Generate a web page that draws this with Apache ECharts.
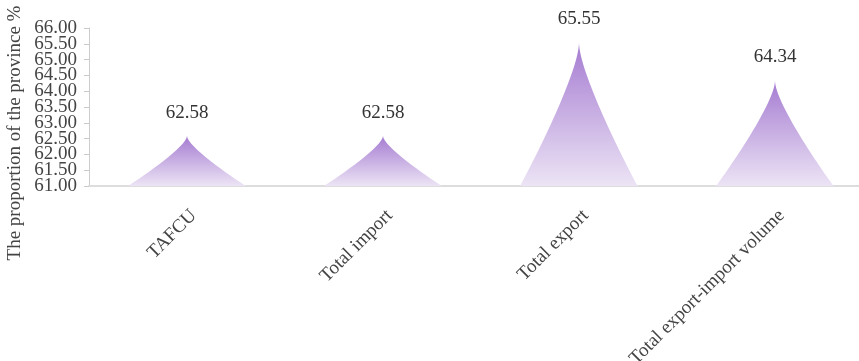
<!DOCTYPE html>
<html>
<head>
<meta charset="utf-8">
<script src="https://cdn.jsdelivr.net/npm/echarts@6/dist/echarts.min.js"></script>
<style>
html,body{margin:0;padding:0;background:#fff;}
#main{width:859px;height:361px;}
</style>
</head>
<body>
<div id="main"></div>
<script>
// categories and values
var categories = ['TAFCU', 'Total import', 'Total export', 'Total export-import volume'];
var proportion = [62.58, 62.58, 65.55, 64.34];
var yMin = 61, yMax = 66, yStep = 0.5;
// y tick labels (drawn on a label-only axis so none get dropped)
var yTicks = ['61.00', '61.50', '62.00', '62.50', '63.00', '63.50', '64.00', '64.50', '65.00', '65.50', '66.00'];

var serif = '"Liberation Serif", "Times New Roman", serif';
var myChart = echarts.init(document.getElementById('main'));
var option = {
	grid: {
		left: 89,
		top: 28,
		width: 784,
		bottom: 175,
		containLabel: false,
		outerBoundsMode: 'none'
	},
	xAxis: {
		type: 'category',
		data: categories,
		axisTick: {show: false},
		axisLine: {onZero: false, lineStyle: {color: '#ddd', width: 2}},
		axisLabel: {
			rotate: 45,
			interval: 0,
			color: '#444',
			fontSize: 19,
			fontFamily: serif,
			verticalAlign: 'top',
			margin: 20
		}
	},
	yAxis: [{
		type: 'value',
		position: 'left',
		min: yMin,
		max: yMax,
		startValue: yMin,
		interval: yStep,
		name: 'The proportion of the province %',
		nameLocation: 'middle',
		nameGap: 64,
		nameTextStyle: {color: '#444', fontSize: 19, fontFamily: serif, padding: [0, 52, 0, 0]},
		splitLine: {show: false},
		axisLine: {show: true, lineStyle: {color: '#ccc'}},
		axisTick: {show: false},
		axisLabel: {show: false}
	}, {
		type: 'category',
		position: 'left',
		data: yTicks,
		boundaryGap: false,
		splitLine: {show: false},
		axisLine: {show: false},
		axisTick: {show: true, length: 5, interval: 0, lineStyle: {color: '#ccc'}},
		axisLabel: {
			interval: 0,
			color: '#444',
			fontSize: 19,
			fontFamily: serif,
			margin: 12
		}
	}],
	series: [{
		type: 'pictorialBar',
		yAxisIndex: 0,
		barCategoryGap: '40%',
		symbol: 'path://M0,10 C1.33,8 5,2 5,0 C5,2 8.67,8 10,10 z',
		itemStyle: {
			color: new echarts.graphic.LinearGradient(0, 0, 0, 1, [
				{offset: 0, color: '#a57bd1'},
				{offset: 1, color: '#ece4f5'}
			])
		},
		label: {
			show: true,
			position: 'top',
			distance: 14,
			color: '#333',
			fontSize: 19,
			fontFamily: serif,
			formatter: function(p){ return p.value.toFixed(2); }
		},
		data: proportion
	}]
};
myChart.setOption(option);
</script>
</body>
</html>
